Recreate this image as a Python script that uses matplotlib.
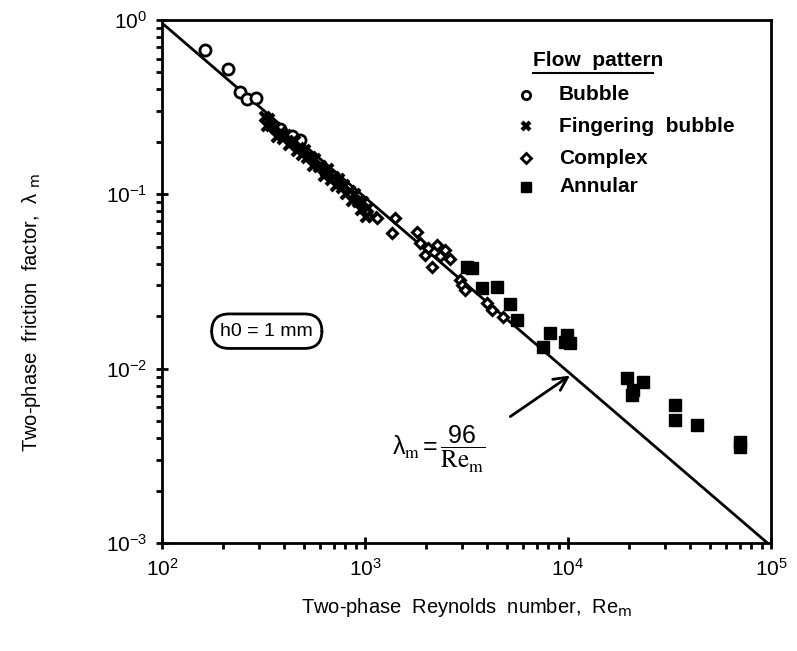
import numpy as np
import matplotlib
matplotlib.use("Agg")
import matplotlib.pyplot as plt

plt.rcParams["font.family"] = ["Liberation Sans", "DejaVu Sans"]
plt.rcParams["mathtext.default"] = "regular"

# friction factor data, grouped by flow pattern
bubble_re = [163, 211, 242, 262, 290, 381, 437, 478]
bubble_lam = [0.673, 0.524, 0.386, 0.352, 0.357, 0.237, 0.216, 0.205]

finger_re = [320, 330, 335, 345, 360, 370, 385, 395, 410, 420, 435, 450, 460,
             475, 490, 505, 520, 540, 555, 570, 590, 610, 625, 645, 660, 680,
             700, 720, 745, 770, 790, 810, 840, 865, 890, 920, 950, 980, 1010,
             1040, 1100]
finger_lam = [0.276, 0.247, 0.272, 0.245, 0.240, 0.213, 0.229, 0.209, 0.218,
              0.192, 0.199, 0.203, 0.177, 0.184, 0.168, 0.179, 0.161, 0.164,
              0.145, 0.160, 0.143, 0.146, 0.127, 0.134, 0.140, 0.121, 0.126,
              0.112, 0.122, 0.108, 0.113, 0.101, 0.104, 0.091, 0.101, 0.090,
              0.081, 0.090, 0.074, 0.083, 0.074]

complex_re = [1146, 1407, 1358, 1803, 1866, 2043, 2263, 2478, 1977, 2339, 2624,
              2138, 2937, 3006, 3111, 3990, 4227, 4786]
complex_lam = [0.0731, 0.073, 0.060, 0.0608, 0.0526, 0.0492, 0.0512, 0.0479,
               0.0449, 0.0443, 0.0425, 0.0383, 0.0322, 0.0302, 0.0282, 0.0238,
               0.0217, 0.0198]

annular_re = [3177, 3365, 3770, 4467, 5178, 5606, 8150, 9886, 10230, 7535, 9700,
              19540, 23400, 20900, 20650, 33650, 33650, 43150, 70300, 70300]
annular_lam = [0.0383, 0.0378, 0.029, 0.0294, 0.0235, 0.019, 0.016, 0.0156,
               0.014, 0.0133, 0.0143, 0.00883, 0.00838, 0.00754, 0.00706,
               0.00618, 0.00507, 0.00474, 0.00379, 0.00355]

legend_labels = ["Bubble", "Fingering  bubble", "Complex", "Annular"]

fig = plt.figure(figsize=(7.97, 6.51), dpi=100)
ax = fig.add_axes([0.2033, 0.1659, 0.7641, 0.8034])

# laminar correlation lambda = 96 / Re
re_line = np.array([100, 1e5])
ax.plot(re_line, 96 / re_line, color="black", lw=2)

ax.plot(bubble_re, bubble_lam, "o", ms=8, mfc="white", mec="black", mew=2)
ax.plot(finger_re, finger_lam, "x", ms=7, color="black", mew=3)
ax.plot(complex_re, complex_lam, "D", ms=5, mfc="white", mec="black", mew=2.2)
ax.plot(annular_re, annular_lam, "s", ms=9, color="black")

ax.set_xscale("log")
ax.set_yscale("log")
ax.set_xlim(1e2, 1e5)
ax.set_ylim(1e-3, 1e0)

for s in ax.spines.values():
    s.set_linewidth(2)
ax.tick_params(which="major", direction="inout", length=9, width=2,
               labelsize=15, pad=6)
ax.tick_params(which="minor", direction="out", length=4, width=2)

ax.set_xlabel("Two-phase  Reynolds  number,  Re$_{\\rm m}$", fontsize=14.5,
              labelpad=12)
ax.set_ylabel("Two-phase  friction  factor,  $\\lambda$ $_{\\rm m}$",
              fontsize=14.5)
ax.yaxis.set_label_coords(-0.195, 0.44)

# legend drawn by hand
ax.text(0.609, 0.922, "Flow  pattern", transform=ax.transAxes, fontsize=15,
        fontweight="bold", va="center")
ax.plot([0.609, 0.807], [0.898, 0.898], color="black", lw=1.5,
        transform=ax.transAxes)
rows = [0.857, 0.797, 0.736, 0.681]
styles = [dict(marker="o", ms=6, mfc="white", mec="black", mew=2),
          dict(marker="x", ms=6, color="black", mew=3),
          dict(marker="D", ms=5, mfc="white", mec="black", mew=2),
          dict(marker="s", ms=7, color="black")]
for yy, lab, st in zip(rows, legend_labels, styles):
    ax.plot([0.597], [yy], ls="none", transform=ax.transAxes, clip_on=False, **st)
    ax.text(0.652, yy, lab, transform=ax.transAxes, fontsize=15,
            fontweight="bold", va="center")

ax.text(0.172, 0.405, "h0 = 1 mm", transform=ax.transAxes, fontsize=14,
        ha="center", va="center",
        bbox=dict(boxstyle="round,pad=0.45,rounding_size=0.9", fc="white",
                  ec="black", lw=2))

# annotation for the correlation line
ax.annotate("", xy=(1.05e4, 96 / 1.05e4 * 1.02), xytext=(5.06e3, 5.2e-3),
            arrowprops=dict(arrowstyle="->", color="black", lw=2,
                            mutation_scale=24))
ax.text(0.378, 0.178, r"$\lambda_{\rm m} = \dfrac{96}{{\rm Re}_{\rm m}}$",
        transform=ax.transAxes, fontsize=18, ha="left", va="center",
        math_fontfamily="stix")

fig.savefig("out.png", dpi=100)
